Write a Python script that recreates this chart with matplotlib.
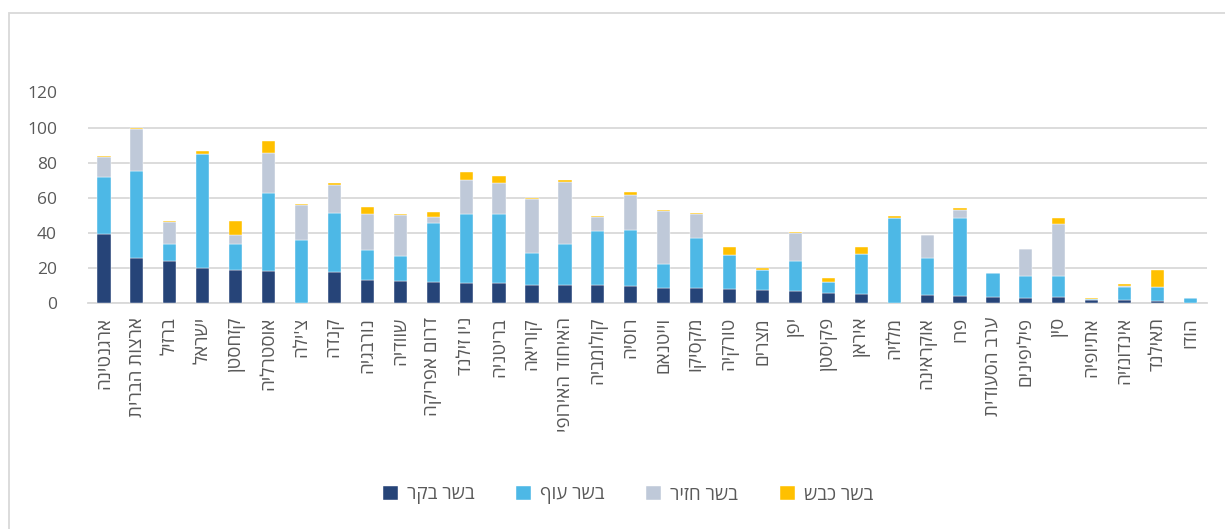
import matplotlib
matplotlib.use("Agg")
import matplotlib.pyplot as plt
from matplotlib.patches import Rectangle
import numpy as np

plt.rcParams['font.family'] = ['Open Sans', 'Liberation Sans', 'DejaVu Sans']

countries = ["ארגנטינה", "ארצות הברית", "ברזיל", "ישראל", "קזחסטן", "אוסטרליה",
             "צ'ילה", "קנדה", "נורבגיה", "שוודיה", "דרום אפריקה", "ניו זילנד",
             "בריטניה", "קוריאה", "האיחוד האירופי", "קולומביה", "רוסיה", "וייטנאם",
             "מקסיקו", "טורקיה", "מצרים", "יפן", "פקיסטן", "איראן", "מלזיה",
             "אוקראינה", "פרו", "ערב הסעודית", "פיליפינים", "סין", "אתיופיה",
             "אינדונזיה", "תאילנד", "הודו"]

beef = [39.4, 25.7, 24.0, 20.0, 18.9, 18.3, 0.0, 17.5, 13.1, 12.6, 11.8, 11.4,
        11.4, 10.3, 10.3, 10.3, 9.7, 8.8, 8.6, 8.0, 7.4, 6.9, 5.9, 5.0, 0.0,
        4.6, 3.8, 3.4, 2.7, 3.4, 1.9, 1.6, 1.3, 0.2]
chicken = [32.4, 49.7, 9.7, 65.1, 14.8, 44.4, 35.8, 33.9, 17.2, 14.4, 33.7, 39.3,
           39.3, 18.3, 23.6, 30.8, 31.8, 13.5, 28.5, 19.4, 11.5, 17.1, 6.1, 23.0, 48.4,
           21.1, 44.6, 13.7, 12.9, 12.0, 0.1, 7.7, 7.7, 2.6]
pork = [11.2, 23.6, 12.6, 0.0, 5.0, 22.6, 19.8, 15.8, 20.2, 22.9, 3.5, 19.2,
        17.5, 30.8, 34.9, 8.0, 20.0, 30.1, 13.8, 0.0, 0.0, 16.0, 0.0, 0.0, 0.0,
        12.8, 4.4, 0.2, 15.1, 29.6, 0.0, 0.3, 0.0, 0.0]
sheep = [1.0, 0.6, 0.6, 1.8, 8.3, 7.1, 0.6, 1.0, 4.2, 1.0, 2.6, 4.8,
         4.2, 0.6, 1.5, 0.4, 1.7, 0.6, 0.3, 4.4, 1.1, 0.4, 2.1, 4.2, 1.3,
         0.2, 1.1, 0.0, 0.3, 3.2, 0.9, 1.1, 10.0, 0.0]

series_names = ["בשר בקר", "בשר עוף", "בשר חזיר", "בשר כבש"]
colors = ["#264478", "#4DB8E6", "#BFC9D9", "#FFC000"]
y_ticks = [0, 20, 40, 60, 80, 100, 120]

def vis(s):
    return s[::-1]

W, H = 1225, 529
fig = plt.figure(figsize=(W / 100, H / 100), dpi=100)
ax = fig.add_axes([87.5 / W, 1 - 303 / H, (1207 - 87.5) / W, (303 - 92.5) / H])

x = np.arange(len(countries))
bottom = np.zeros(len(countries))
for vals, name, c in zip([beef, chicken, pork, sheep], series_names, colors):
    v = np.array(vals)
    ax.bar(x, v, 0.4, bottom=bottom, color=c, label=vis(name), zorder=3,
           edgecolor='white', linewidth=0.3)
    bottom += v

ax.set_xlim(-0.5, len(countries) - 0.5)
ax.set_ylim(0, 120)
ax.set_yticks(y_ticks)
ax.set_yticklabels([str(t) for t in y_ticks])
ax.yaxis.grid(True, color="#D9D9D9", linewidth=1.3, zorder=0)
ax.set_axisbelow(True)
for s in ['top', 'right', 'left']:
    ax.spines[s].set_visible(False)
ax.spines['bottom'].set_color("#D9D9D9")
ax.spines['bottom'].set_linewidth(1.3)
ax.tick_params(axis='y', length=0, pad=22, labelsize=12.5, labelcolor="#595959")
ax.tick_params(axis='x', length=0, pad=10)
ax.set_xticks(x)
ax.set_xticklabels([vis(c) for c in countries], rotation=90, va='top', ha='center',
                   fontsize=13.5, color="#595959")

leg = fig.legend(loc='center', bbox_to_anchor=(628 / W, 1 - 495 / H), ncol=4,
                 frameon=False, fontsize=13.5, handlelength=0.8, handleheight=0.8,
                 handletextpad=0.5, columnspacing=2.2)
for t in leg.get_texts():
    t.set_color("#595959")

fig.patches.append(Rectangle((9 / W, -0.1), 1.2, 1 - 13 / H + 0.1, transform=fig.transFigure,
                             fill=False, edgecolor="#D9D9D9", linewidth=1.3))

fig.savefig("out.png", dpi=100)
